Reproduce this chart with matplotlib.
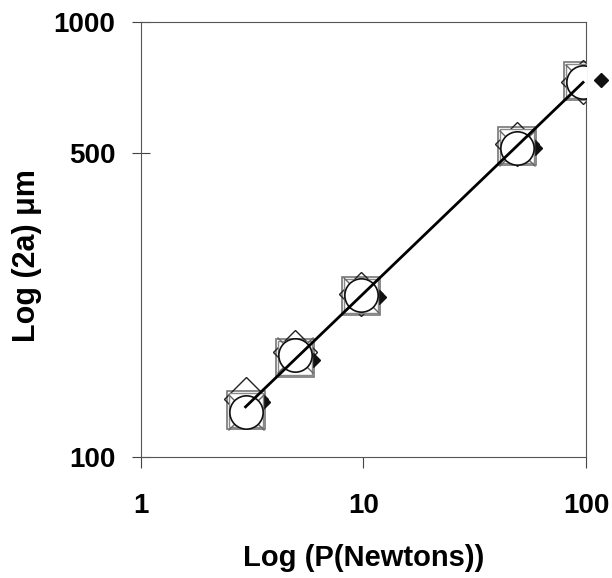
import numpy as np
import matplotlib
matplotlib.use("Agg")
import matplotlib.pyplot as plt

plt.rcParams['font.family'] = ['Liberation Sans', 'DejaVu Sans']

# load (N)
load = [2.95, 4.9, 9.7, 49, 97]
# diagonal 2a (um) for each indenter series
circle_vals = [127, 172, 236, 513, 728]
square_vals = [128, 169, 234, 519, 732]
diamond_vals = [136, 174, 237, 524, 728]
cross_vals = [127, 172, 236, 513, 728]
# small filled marker sits a little to the right of each group
load_filled = [3.55, 5.9, 11.8, 59, 117]
filled_vals = [134, 167, 233, 513, 736]

fig = plt.figure(figsize=(6.12, 5.78), dpi=100)
ax = fig.add_axes([0.2304, 0.2093, 0.9575 - 0.2304, 0.962 - 0.2093])

ax.plot(load, square_vals, 's', ms=27, mfc='white', mec='#777777', mew=1.2, zorder=2)
ax.plot(load, diamond_vals, 'D', ms=22, mfc='none', mec='#222222', mew=1.0, zorder=2)
ax.plot(load_filled, filled_vals, 'D', ms=7, mfc='#111111', mec='#111111', zorder=3,
        clip_on=False)
ax.plot(load, square_vals, 's', ms=24, mfc='white', mec='#888888', mew=1.0, zorder=3)
ax.plot(load, cross_vals, 'x', ms=26, mec='#666666', mew=1.0, zorder=4)
ax.plot(load, circle_vals, 'o', ms=24, mfc='white', mec='#111111', mew=1.2, zorder=5)

# power law fit through the circle data
k = np.polyfit(np.log10(load), np.log10(circle_vals), 1)
xf = np.array([load[0], load[-1]])
ax.plot(xf, 10 ** np.polyval(k, np.log10(xf)), color='black', lw=2, zorder=6)

ax.set_xscale('log')
ax.set_yscale('log')
ax.set_xlim(1, 100)
ax.set_ylim(100, 1000)
ax.set_xticks([1, 10, 100])
ax.set_xticklabels(['1', '10', '100'])
ax.set_yticks([100, 500, 1000])
ax.set_yticklabels(['100', '500', '1000'])
ax.minorticks_off()
ax.tick_params(axis='x', direction='out', length=8, width=0.8, pad=18,
               labelsize=20, color='#444444')
ax.tick_params(axis='y', direction='inout', length=13, width=0.8, pad=12,
               labelsize=20, color='#444444')
for lab in ax.get_xticklabels() + ax.get_yticklabels():
    lab.set_fontweight('bold')
for sp in ax.spines.values():
    sp.set_color('#555555')
    sp.set_linewidth(0.8)

ax.set_xlabel('Log (P(Newtons))', fontsize=21, fontweight='bold', labelpad=18)
ax.set_ylabel('Log (2a) \u03bcm', fontsize=22, fontweight='bold', labelpad=8)
ax.yaxis.label.set_y(0.464)

fig.savefig('out.png', dpi=100)
